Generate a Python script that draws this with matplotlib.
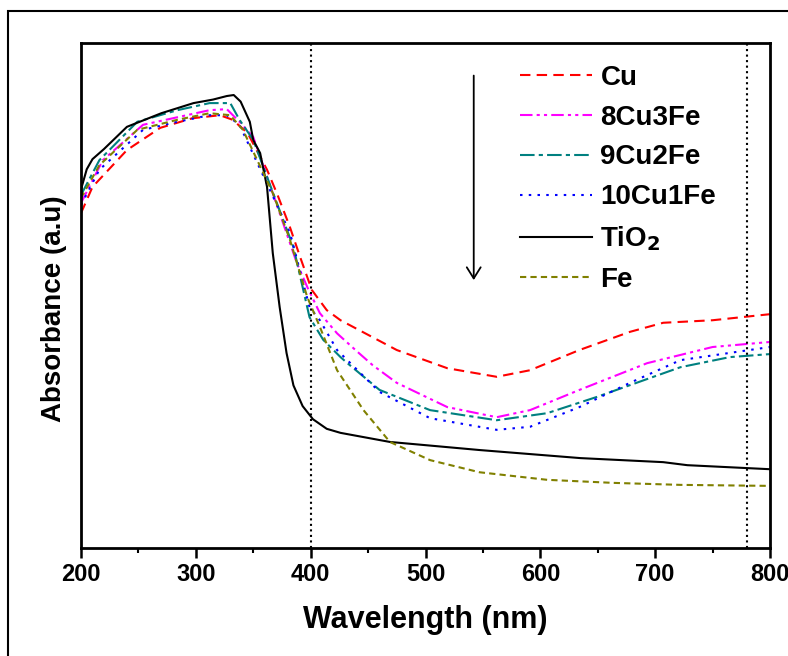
import matplotlib
matplotlib.use('Agg')
import matplotlib.pyplot as plt
from matplotlib.patches import Rectangle

plt.rcParams['font.family'] = ['Liberation Sans', 'DejaVu Sans']
plt.rcParams['font.weight'] = 'bold'

# UV-vis absorbance curves (arbitrary units)
wl_tio2 = [200, 205, 210, 220, 240, 270, 298, 315, 327, 333, 339, 347, 350, 356, 362, 367,
           373, 379, 385, 393, 402, 414, 426, 469, 547, 635, 707, 728, 800]
ab_tio2 = [0.71, 0.75, 0.77, 0.79, 0.834, 0.861, 0.881, 0.888, 0.895, 0.897, 0.884, 0.844,
           0.808, 0.782, 0.715, 0.584, 0.477, 0.386, 0.322, 0.281, 0.255, 0.236, 0.228,
           0.210, 0.194, 0.178, 0.170, 0.164, 0.156]

wl_cu = [200, 210, 240, 269, 297, 321, 332, 345, 362, 371, 382, 391, 401, 414, 426, 475,
         519, 562, 591, 634, 678, 707, 750, 800]
ab_cu = [0.663, 0.715, 0.788, 0.832, 0.851, 0.857, 0.848, 0.822, 0.749, 0.700, 0.635, 0.575,
         0.511, 0.471, 0.451, 0.392, 0.356, 0.339, 0.352, 0.392, 0.428, 0.446, 0.451, 0.463]

wl_8cu3fe = [200, 219, 254, 284, 312, 327, 338, 350, 373, 388, 397, 408, 423, 440, 454,
             475, 519, 562, 591, 634, 693, 750, 800]
ab_8cu3fe = [0.683, 0.768, 0.838, 0.853, 0.867, 0.869, 0.844, 0.814, 0.663, 0.564, 0.517,
             0.465, 0.425, 0.390, 0.362, 0.327, 0.279, 0.259, 0.273, 0.313, 0.366, 0.398, 0.408]

wl_9cu2fe = [200, 216, 249, 284, 312, 330, 338, 350, 376, 385, 399, 411, 426, 432, 460,
             504, 562, 606, 649, 722, 765, 800]
ab_9cu2fe = [0.699, 0.768, 0.844, 0.867, 0.881, 0.881, 0.848, 0.808, 0.650, 0.596, 0.457,
             0.412, 0.378, 0.366, 0.313, 0.273, 0.253, 0.267, 0.299, 0.358, 0.378, 0.384]

wl_10cu1fe = [200, 216, 254, 284, 312, 327, 338, 382, 399, 408, 423, 460, 504, 562, 591,
              634, 678, 722, 800]
ab_10cu1fe = [0.679, 0.749, 0.828, 0.844, 0.857, 0.857, 0.838, 0.624, 0.477, 0.451, 0.392,
              0.309, 0.257, 0.234, 0.240, 0.279, 0.327, 0.372, 0.398]

wl_fe = [200, 216, 249, 284, 312, 330, 341, 367, 382, 397, 408, 423, 446, 469, 504, 547,
         606, 663, 722, 800]
ab_fe = [0.693, 0.758, 0.828, 0.848, 0.861, 0.857, 0.828, 0.703, 0.610, 0.497, 0.438,
         0.352, 0.273, 0.210, 0.174, 0.150, 0.135, 0.129, 0.125, 0.123]

fig = plt.figure(figsize=(7.88, 6.56), dpi=100)
ax = fig.add_axes([81 / 788, 108 / 656, 689 / 788, 505 / 656])

ax.plot(wl_cu, ab_cu, color='red', lw=1.5, dashes=(5, 3), label='Cu')
ax.plot(wl_8cu3fe, ab_8cu3fe, color='magenta', lw=1.5, dashes=(6, 2, 1.5, 2, 1.5, 2), label='8Cu3Fe')
ax.plot(wl_9cu2fe, ab_9cu2fe, color='#008080', lw=1.5, dashes=(7, 2, 2, 2), label='9Cu2Fe')
ax.plot(wl_10cu1fe, ab_10cu1fe, color='blue', lw=1.5, dashes=(1.2, 3), label='10Cu1Fe')
ax.plot(wl_tio2, ab_tio2, color='black', lw=1.5, label='TiO$_2$')
ax.plot(wl_fe, ab_fe, color='#808000', lw=1.5, dashes=(3, 2), label='Fe')

ax.axvline(400, color='black', ls=':', lw=1.5)
ax.axvline(780, color='black', ls=':', lw=1.5)

ax.annotate('', xy=(542, 0.525), xytext=(542, 0.941),
            arrowprops=dict(arrowstyle='->,head_width=0.5,head_length=0.8', color='black', lw=1.3))

ax.set_xlim(200, 800)
ax.set_ylim(0, 1)
ax.set_xticks([200, 300, 400, 500, 600, 700, 800])
ax.set_xticks(range(250, 800, 100), minor=True)
ax.set_yticks([])
ax.tick_params(axis='x', which='major', length=7, width=1.8, labelsize=17, direction='out')
ax.tick_params(axis='x', which='minor', length=3.5, width=1.5, direction='out')
for s in ax.spines.values():
    s.set_linewidth(2)

ax.set_xlabel('Wavelength (nm)', fontsize=22, fontweight='bold', labelpad=14)
ax.set_ylabel('Absorbance (a.u)', fontsize=20, fontweight='bold')
ax.yaxis.set_label_coords(-0.02, 0.473)

ax.legend(loc='upper left', bbox_to_anchor=(0.637, 0.957), frameon=False, fontsize=20,
          handlelength=2.6, handletextpad=0.3, labelspacing=0.5, borderpad=0, borderaxespad=0)

fig.add_artist(Rectangle((8 / 788, -0.05), 1.2, 1 - 11 / 656 + 0.05, transform=fig.transFigure,
                         fill=False, lw=1.5, edgecolor='black'))

fig.savefig('out.png', dpi=100)
